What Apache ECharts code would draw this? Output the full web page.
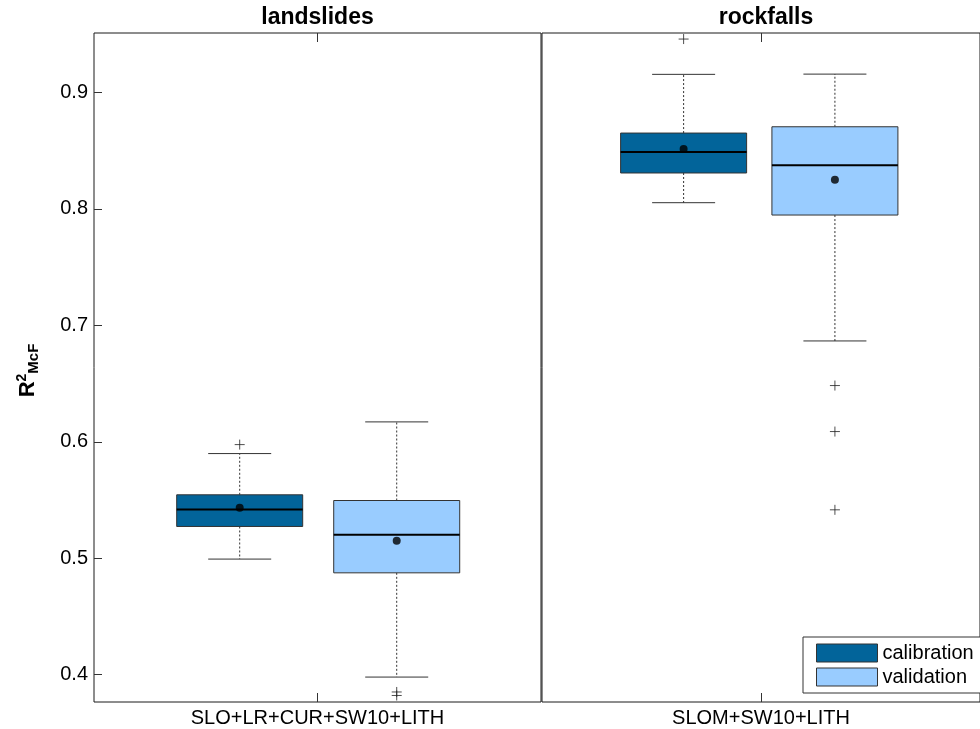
<!DOCTYPE html>
<html>
<head>
<meta charset="utf-8">
<script src="https://cdn.jsdelivr.net/npm/echarts@6/dist/echarts.min.js"></script>
<style>
html,body{margin:0;padding:0;background:#fff;}
#chart{width:980px;height:729px;}
</style>
</head>
<body>
<div id="chart"></div>
<script>
// ---- data ----
const panels = ['landslides', 'rockfalls'];
const xLabels = ['SLO+LR+CUR+SW10+LITH', 'SLOM+SW10+LITH'];
const groups = ['calibration', 'validation'];
// [lower whisker, Q1, median, Q3, upper whisker]
const lsCal = [0.4993, 0.5273, 0.5419, 0.5545, 0.5899];
const lsVal = [0.3980, 0.4875, 0.5201, 0.5496, 0.6171];
const rfCal = [0.8053, 0.8308, 0.8488, 0.8651, 0.9155];
const rfVal = [0.6866, 0.7947, 0.8374, 0.8705, 0.9157];
// means [calibration, validation]
const lsMean = [0.5433, 0.5150];
const rfMean = [0.8514, 0.8250];
// outliers
const lsCalOut = [0.5976];
const lsValOut = [0.3852, 0.3822];
const rfCalOut = [0.9458];
const rfValOut = [0.6483, 0.6088, 0.5416];
const yTicks = ['0.4', '0.5', '0.6', '0.7', '0.8', '0.9'];

// ---- styling ----
const FONT = 'Liberation Sans, Arial, Helvetica, sans-serif';
const colors = ['#02649a', '#99ccff'];
const Y_MIN = 0.3766, Y_MAX = 0.951;
const grids = [
  {left: 94, top: 33, width: 447, height: 669, xmin: -0.928, xmax: 1.919},
  {left: 542, top: 33, width: 454, height: 669, xmin: -0.936, xmax: 1.959}
];
const boxes = [[lsCal, lsVal], [rfCal, rfVal]];
const means = [lsMean, rfMean];
const outs = [[lsCalOut, lsValOut], [rfCalOut, rfValOut]];

function renderBox(params, api) {
  const x = api.value(0);
  const lo = api.coord([x, api.value(1)]);
  const q1 = api.coord([x, api.value(2)]);
  const md = api.coord([x, api.value(3)]);
  const q3 = api.coord([x, api.value(4)]);
  const hi = api.coord([x, api.value(5)]);
  const bw = 126, cw = 63;
  const cx = lo[0];
  const color = api.visual('color');
  const dash = {stroke: '#333', lineWidth: 1, lineDash: [2, 2]};
  const solid = {stroke: '#333', lineWidth: 1};
  return {
    type: 'group',
    children: [
      {type: 'line', shape: {x1: cx, y1: q3[1], x2: cx, y2: hi[1]}, style: dash},
      {type: 'line', shape: {x1: cx, y1: q1[1], x2: cx, y2: lo[1]}, style: dash},
      {type: 'line', shape: {x1: cx - cw / 2, y1: hi[1], x2: cx + cw / 2, y2: hi[1]}, style: solid},
      {type: 'line', shape: {x1: cx - cw / 2, y1: lo[1], x2: cx + cw / 2, y2: lo[1]}, style: solid},
      {type: 'rect', shape: {x: cx - bw / 2, y: q3[1], width: bw, height: q1[1] - q3[1]},
       style: {fill: color, stroke: '#333', lineWidth: 1}},
      {type: 'line', shape: {x1: cx - bw / 2, y1: md[1], x2: cx + bw / 2, y2: md[1]},
       style: {stroke: '#000', lineWidth: 2}}
    ]
  };
}

const gridOpt = [], xAxes = [], yAxes = [], series = [], titles = [];
grids.forEach(function (g, gi) {
  gridOpt.push({left: g.left, top: g.top, width: g.width, height: g.height,
    show: true, borderColor: '#1a1a1a', borderWidth: 1, backgroundColor: 'transparent'});
  titles.push({text: panels[gi], left: g.left + g.width / 2 - (gi === 1 ? 3 : 0), top: 6, padding: 0,
    textAlign: 'center',
    textStyle: {fontFamily: FONT, fontSize: 23, fontWeight: 'bold', color: '#000'}});
  // visible category axis (bottom)
  xAxes.push({type: 'category', gridIndex: gi, position: 'bottom', data: [xLabels[gi]],
    axisLine: {show: false, onZero: false},
    axisTick: {show: true, inside: true, alignWithLabel: true, length: 9, lineStyle: {color: '#333'}},
    axisLabel: {fontFamily: FONT, fontSize: 20, color: '#000', margin: 6},
    splitLine: {show: false}});
  // mirrored ticks (top)
  xAxes.push({type: 'category', gridIndex: gi, position: 'top', data: [xLabels[gi]],
    axisLine: {show: false, onZero: false},
    axisTick: {show: true, inside: true, alignWithLabel: true, length: 9, lineStyle: {color: '#333'}},
    axisLabel: {show: false}, splitLine: {show: false}});
  // hidden value axis placing the boxes
  xAxes.push({type: 'value', gridIndex: gi, min: g.xmin, max: g.xmax, show: false,
    axisLine: {onZero: false}});
  yAxes.push({type: 'value', gridIndex: gi, min: Y_MIN, max: Y_MAX, splitNumber: 6,
    position: 'left',
    axisLine: {show: false, onZero: false},
    axisTick: {show: gi === 0, inside: true, length: 8, lineStyle: {color: '#333'}},
    axisLabel: {show: gi === 0, fontFamily: FONT, fontSize: 20, color: '#000', margin: 6,
      showMinLabel: false, showMaxLabel: false,
      formatter: function (v) { const s = v.toFixed(1); return yTicks.indexOf(s) >= 0 ? s : ''; }},
    splitLine: {show: false},
    name: gi === 0 ? '{r|R}{s|2}{b|McF}' : '',
    nameLocation: 'middle', nameRotate: 90, nameGap: 53,
    nameTextStyle: {fontFamily: FONT, color: '#000', padding: [0, 6, 0, 0],
      rich: {
        r: {fontFamily: FONT, fontSize: 22, fontWeight: 'bold', color: '#000', lineHeight: 26},
        s: {fontFamily: FONT, fontSize: 14, fontWeight: 'bold', color: '#000', verticalAlign: 'top', lineHeight: 26},
        b: {fontFamily: FONT, fontSize: 15, fontWeight: 'bold', color: '#000', verticalAlign: 'bottom', lineHeight: 26}
      }}
  });
  const vx = gi * 3 + 2;
  groups.forEach(function (grp, k) {
    series.push({type: 'custom', name: grp, xAxisIndex: vx, yAxisIndex: gi,
      itemStyle: {color: colors[k]},
      encode: {x: 0, y: [1, 2, 3, 4, 5]},
      renderItem: renderBox,
      data: [[k].concat(boxes[gi][k])], z: 2});
    series.push({type: 'scatter', name: grp + ' outliers', xAxisIndex: vx, yAxisIndex: gi,
      symbol: 'path://M5,0L5,10M0,5L10,5', symbolSize: 10,
      itemStyle: {color: 'rgba(0,0,0,0)', borderColor: '#222', borderWidth: 1},
      data: outs[gi][k].map(function (v) { return [k, v]; }), z: 3, silent: true});
  });
  series.push({type: 'scatter', name: 'mean', xAxisIndex: vx, yAxisIndex: gi,
    symbol: 'circle', symbolSize: 8, itemStyle: {color: '#000'},
    data: means[gi].map(function (v, k) { return [k, v]; }), z: 4, silent: true});
});

const option = {
  animation: false,
  backgroundColor: '#fff',
  title: titles,
  grid: gridOpt,
  xAxis: xAxes,
  yAxis: yAxes,
  legend: {
    orient: 'vertical', left: 803, top: 637,
    padding: [4, 30, 4, 13], itemGap: 0, itemWidth: 61, itemHeight: 18,
    backgroundColor: '#fff', borderColor: '#333', borderWidth: 1, borderRadius: 0,
    selectedMode: false,
    textStyle: {fontFamily: FONT, fontSize: 20, color: '#000', lineHeight: 24},
    data: groups.map(function (g, k) {
      return {name: g, icon: 'rect', itemStyle: {color: colors[k], borderColor: '#333', borderWidth: 1}};
    })
  },
  series: series
};
const chart = echarts.init(document.getElementById('chart'), null, {renderer: 'canvas'});
chart.setOption(option);
</script>
</body>
</html>
